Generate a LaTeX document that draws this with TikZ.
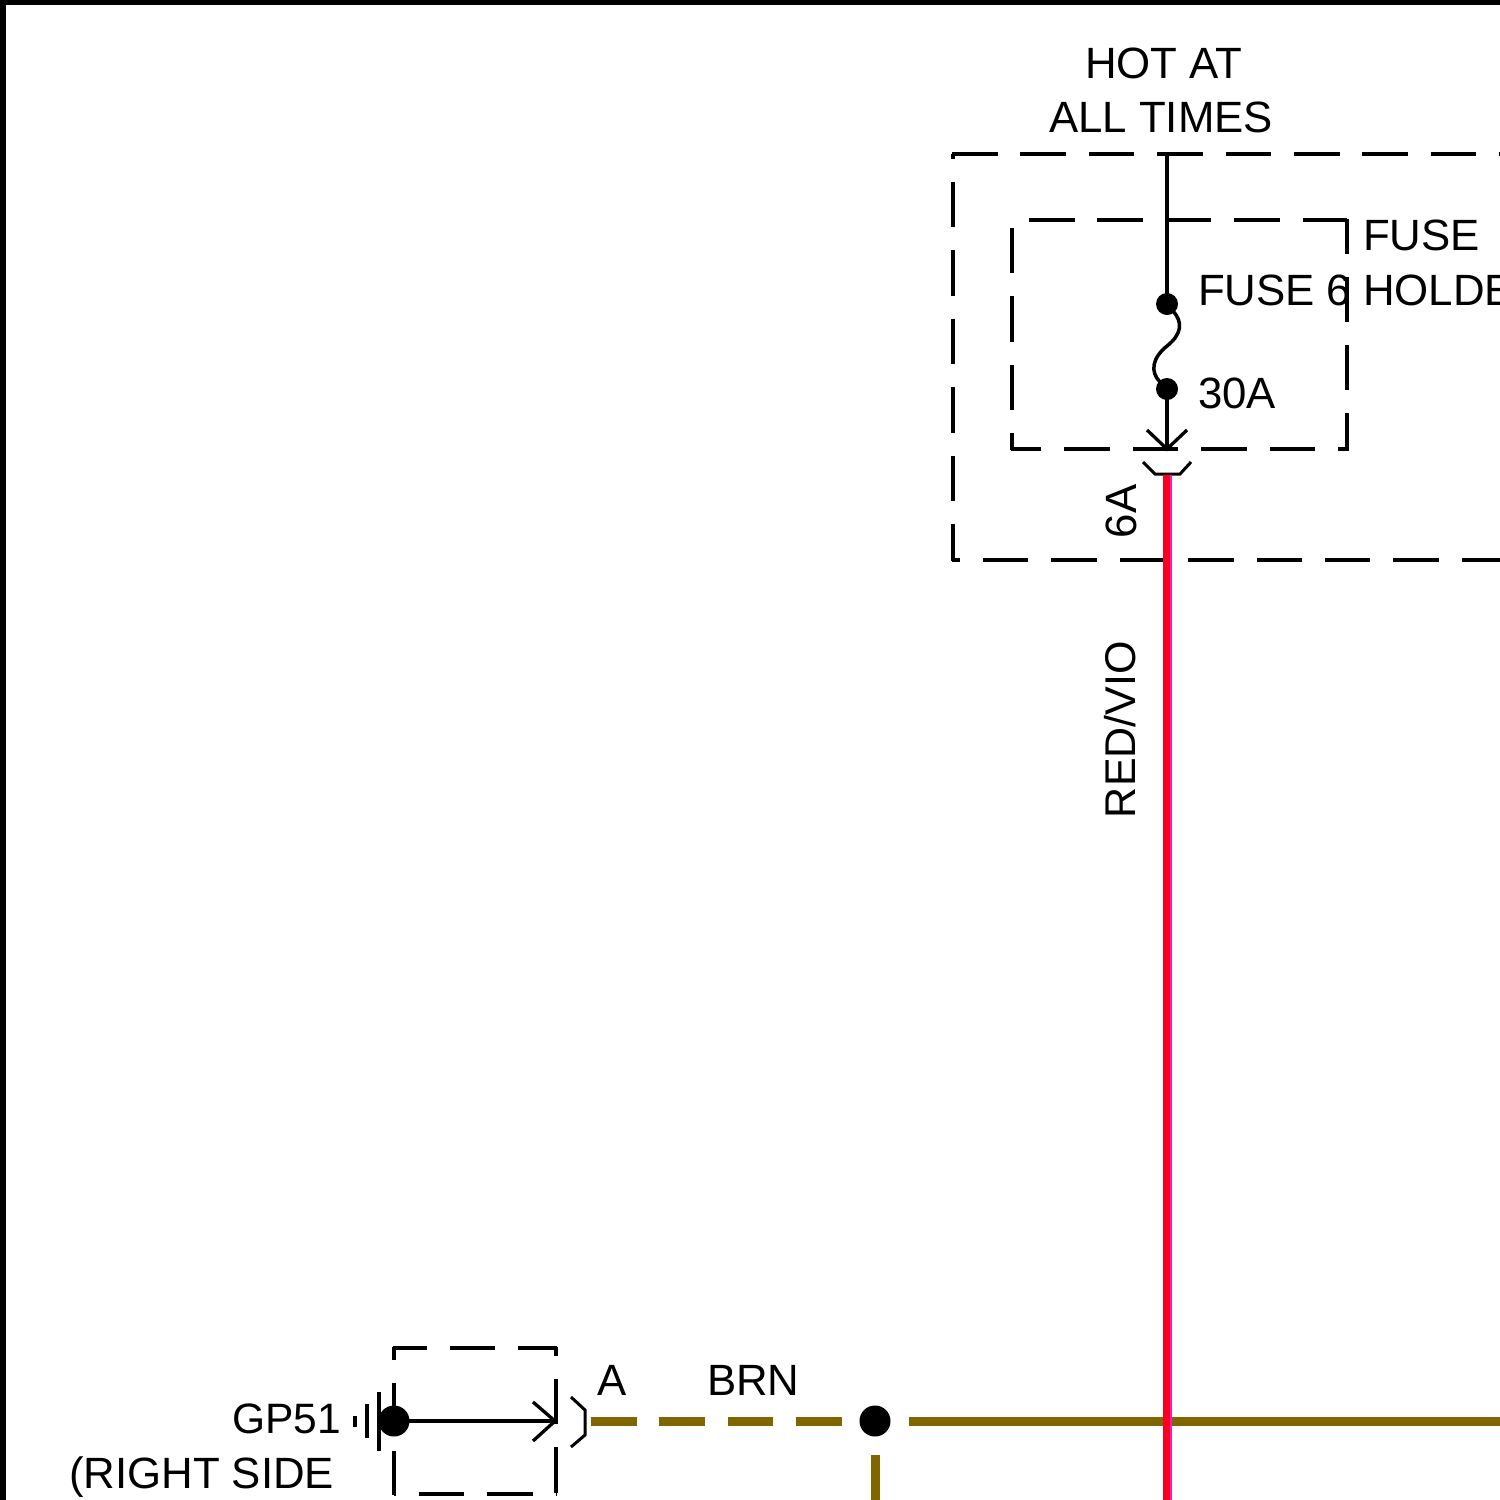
\documentclass[tikz,border=0pt]{standalone}
\usepackage{fontspec}
\setmainfont{Liberation Sans}
\tikzset{
  lbl/.style={inner sep=0pt,outer sep=0pt,anchor=base west,font=\fontsize{43.8}{48}\selectfont},
  lblr/.style={lbl,anchor=base east},
  lblrot/.style={lbl,rotate=90},
  dot/.style={circle,fill=black,draw=none,inner sep=0pt,minimum size=#1},
  box/.style={line width=3.3pt,black,dash pattern=on 45.5pt off 22.9pt},
  thin wire/.style={line width=3.3pt,black},
  brnw/.style={line width=9pt,color=brn},
}
\definecolor{brn}{HTML}{806600}
\definecolor{wred}{HTML}{FA0020}
\definecolor{wmag}{HTML}{F020C0}
\begin{document}
\begin{tikzpicture}[x=1pt,y=-1pt]
\useasboundingbox (0,0) rectangle (1500,1500);
\clip (0,0) rectangle (1500,1500);
\fill[white] (0,0) rectangle (1500,1500);
\fill[black] (0,0) rectangle (1500,5);
\fill[black] (0,0) rectangle (6,1500);
% outer fuse holder box
\draw[box] (952,154) -- (1500,154);
\draw[box,dash phase=40.5pt] (953,154) -- (953,561);
\draw[box,dash phase=37.5pt] (952,560) -- (1500,560);
% inner fuse box
\draw[box,dash phase=51.4pt] (1012,220) -- (1347,220);
\draw[box,dash phase=10.4pt] (1347,218.5) -- (1347,450);
\draw[box,dash phase=34.4pt] (1349,449) -- (1010.5,449);
\draw[box,dash phase=28.4pt] (1012,450) -- (1012,220);
% small ground box
\draw[box,dash phase=11.4pt] (392.5,1348) -- (557,1348);
\draw[box,dash phase=36.5pt] (556,1347) -- (556,1495);
\draw[box,dash phase=43.5pt] (394,1494) -- (556,1494);
\draw[box,dash phase=32.5pt] (394,1347) -- (394,1495);
% nodes
\node[dot=22pt] (f1) at (1167,304) {};
\node[dot=22pt] (f2) at (1167,389) {};
\node[dot=31pt] (g) at (394,1421) {};
\node[dot=31pt] (j) at (875,1421) {};
\coordinate (ftop) at (1167,154);
\coordinate (ftip) at (1167,449);
\coordinate (gtip) at (555,1421);
% wires
\draw[thin wire] (ftop) -- (f1.center);
\draw[line width=3.5pt,line cap=round] (1173,311) .. controls (1183,322) and (1182,334) .. (1167,346) .. controls (1152,358) and (1150,372) .. (1160,382);
\draw[thin wire] (f2.center) -- (ftip);
\draw[line width=3.3pt] (1147,430) -- (ftip) -- (1187,430);
\draw[line width=3pt] (1143,462) -- (1155,474) -- (1180,474) -- (1191,462);
\draw[thin wire] (g.center) -- (gtip);
\draw[line width=3.3pt] (533,1402) -- (gtip) -- (533,1441);
\draw[line width=3pt] (571,1397) -- (585,1410) -- (585,1435) -- (571,1447);
% ground bars
\draw[line width=3.3pt] (355,1416) -- (355,1427);
\draw[line width=3.3pt] (367,1404) -- (367,1438);
\draw[line width=3.3pt] (379,1392) -- (379,1451);
% brown wires
\coordinate (b1) at (591,1421);
\coordinate (b2) at (842,1421);
\coordinate (b3) at (909,1421);
\coordinate (b4) at (1500,1421);
\coordinate (b5) at (875,1455);
\coordinate (b6) at (875,1500);
\draw[brnw,dash pattern=on 45.5pt off 22.9pt] (b1) -- (b2);
\draw[brnw] (b3) -- (b4);
\draw[brnw] (b5) -- (b6);
% red/violet wire
\coordinate (r1) at (1166.1,475);
\coordinate (r2) at (1166.1,1500);
\coordinate (m1) at (1170.6,475);
\coordinate (m2) at (1170.6,1500);
\draw[line width=7pt,wred] (r1) -- (r2);
\draw[line width=2.2pt,wmag] (m1) -- (m2);
% labels
\node[lbl] (hot) at (1085,78.5) {HOT AT};
\node[lbl] (all) at (1049,132.5) {ALL TIMES};
\node[lbl] (fuse6) at (1198,305) {FUSE 6};
\node[lbl] (amp) at (1198,408.5) {30A};
\node[lbl] (fh1) at (1363,250) {FUSE};
\node[lbl] (fh2) at (1363,305) {HOLDER};
\node[lblrot] (sixa) at (1136,538) {6A};
\node[lblrot,font=\fontsize{43}{48}\selectfont] (wire) at (1135,818) {RED/VIO};
\node[lbl] (a) at (597,1395.5) {A};
\node[lbl] (brn) at (707,1395.5) {BRN};
\node[lblr,font=\fontsize{42.5}{48}\selectfont] (gp) at (341,1433) {GP51};
\node[lbl] (rs) at (69,1488) {(RIGHT SIDE};
\end{tikzpicture}
\end{document}
